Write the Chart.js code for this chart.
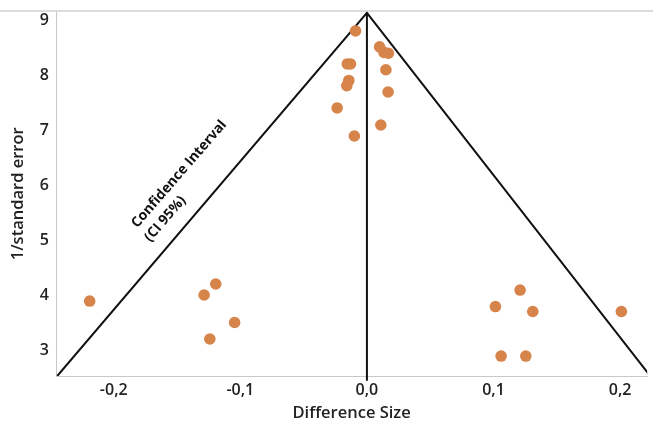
<!DOCTYPE html>
<html>
<head>
<meta charset="utf-8">
<script src="https://cdn.jsdelivr.net/npm/chart.js@4.4.1/dist/chart.umd.min.js"></script>
<style>
  html, body { margin: 0; padding: 0; background: #ffffff; }
  #wrap { width: 653px; height: 423px; }
</style>
</head>
<body>
<div id="wrap"><canvas id="c" width="653" height="423"></canvas></div>
<script>
// Study effect sizes (Difference Size) and precision (1/standard error)
const diffSize = [-0.009, 0.010, 0.0135, 0.017, -0.0155, -0.013, 0.015, -0.0143, -0.0159, 0.0167, -0.0235, 0.011, -0.0099,
                  -0.219, -0.1286, -0.1194, -0.1045, -0.1241,
                  0.121, 0.1015, 0.131, 0.201, 0.106, 0.1255];
const invSE    = [8.81, 8.52, 8.42, 8.405, 8.21, 8.21, 8.105, 7.91, 7.816, 7.70, 7.41, 7.10, 6.90,
                  3.90, 4.01, 4.21, 3.51, 3.21,
                  4.10, 3.80, 3.71, 3.71, 2.90, 2.90];
// Funnel (95% confidence interval) outline
const funnelX = [-0.2446, 0, 0.2238];
const funnelY = [2.537, 9.14, 2.537];
// Center line
const centerX = [0, 0];
const centerY = [9.14, 2.45];
// Axis tick values
const xTicks = [-0.2, -0.1, 0.0, 0.1, 0.2];
const yTicks = [3, 4, 5, 6, 7, 8, 9];
const annotationLines = ['Confidence Interval', '(CI 95%)'];

const toPts = (xs, ys) => xs.map((x, i) => ({ x: x, y: ys[i] }));

const FONT = '"Open Sans", "Noto Sans", sans-serif';

const decor = {
  id: 'decor',
  beforeDatasetsDraw(chart) {
    const ctx = chart.ctx;
    const a = chart.chartArea;
    ctx.save();
    ctx.strokeStyle = '#dcdcdc';
    ctx.lineWidth = 2;
    ctx.beginPath();
    ctx.moveTo(0, a.top - 0.5);
    ctx.lineTo(chart.width, a.top - 0.5);
    ctx.stroke();
    ctx.restore();
  },
  afterDatasetsDraw(chart) {
    const ctx = chart.ctx;
    const xs = chart.scales.x, ys = chart.scales.y;
    ctx.save();
    ctx.fillStyle = '#111111';
    ctx.font = '700 14px ' + FONT;
    ctx.textAlign = 'left';
    ctx.textBaseline = 'alphabetic';
    const px = xs.getPixelForValue(-0.1815);
    const py = ys.getPixelForValue(5.22);
    ctx.translate(px, py);
    ctx.rotate(-49 * Math.PI / 180);
    ctx.fillText(annotationLines[0], 0, 0);
    ctx.fillText(annotationLines[1], -2, 19);
    ctx.restore();
  }
};

new Chart(document.getElementById('c'), {
  type: 'scatter',
  data: {
    datasets: [
      {
        data: toPts(diffSize, invSE),
        backgroundColor: '#d7844a',
        borderWidth: 0,
        pointRadius: 5.8,
        pointHoverRadius: 5.8,
        order: 0
      },
      {
        data: toPts(funnelX, funnelY),
        showLine: true,
        borderColor: '#111111',
        borderWidth: 2,
        pointRadius: 0,
        fill: false,
        order: 1
      },
      {
        data: toPts(centerX, centerY),
        showLine: true,
        borderColor: '#111111',
        borderWidth: 2,
        pointRadius: 0,
        fill: false,
        clip: { left: 0, top: 0, right: 0, bottom: 5 },
        order: 1
      }
    ]
  },
  options: {
    responsive: false,
    animation: false,
    events: [],
    layout: { padding: { top: 8, right: 0, left: 0, bottom: 0 } },
    plugins: {
      legend: { display: false },
      tooltip: { enabled: false }
    },
    scales: {
      x: {
        type: 'linear',
        min: -0.2456,
        max: 0.2214,
        afterFit(s) { s.height = 47; },
        afterBuildTicks(s) { s.ticks = xTicks.map(v => ({ value: v })); },
        ticks: {
          includeBounds: false,
          color: '#222222',
          font: { family: FONT, size: 16, weight: '600' },
          padding: 0,
          callback: v => v.toFixed(1).replace('.', ',')
        },
        grid: { display: false, drawTicks: true, tickLength: 5, tickColor: '#c8c8c8' },
        border: { display: true, color: '#c8c8c8', width: 1 },
        title: {
          display: true,
          text: 'Difference Size',
          color: '#222222',
          font: { family: FONT, size: 16.5, weight: '600' },
          padding: { top: 0, bottom: 0 }
        }
      },
      y: {
        type: 'linear',
        min: 2.537,
        max: 9.162,
        afterFit(s) { s.width = 56; },
        afterBuildTicks(s) { s.ticks = yTicks.map(v => ({ value: v })); },
        ticks: {
          includeBounds: false,
          color: '#222222',
          font: { family: FONT, size: 16, weight: '600' },
          padding: 2
        },
        grid: { display: false, drawTicks: true, tickLength: 5, tickColor: '#c8c8c8' },
        border: { display: true, color: '#c8c8c8', width: 1 },
        title: {
          display: true,
          text: '1/standard error',
          color: '#222222',
          font: { family: FONT, size: 16.5, weight: '600' },
          padding: { top: 8, bottom: 0 }
        }
      }
    }
  },
  plugins: [decor]
});
</script>
</body>
</html>
